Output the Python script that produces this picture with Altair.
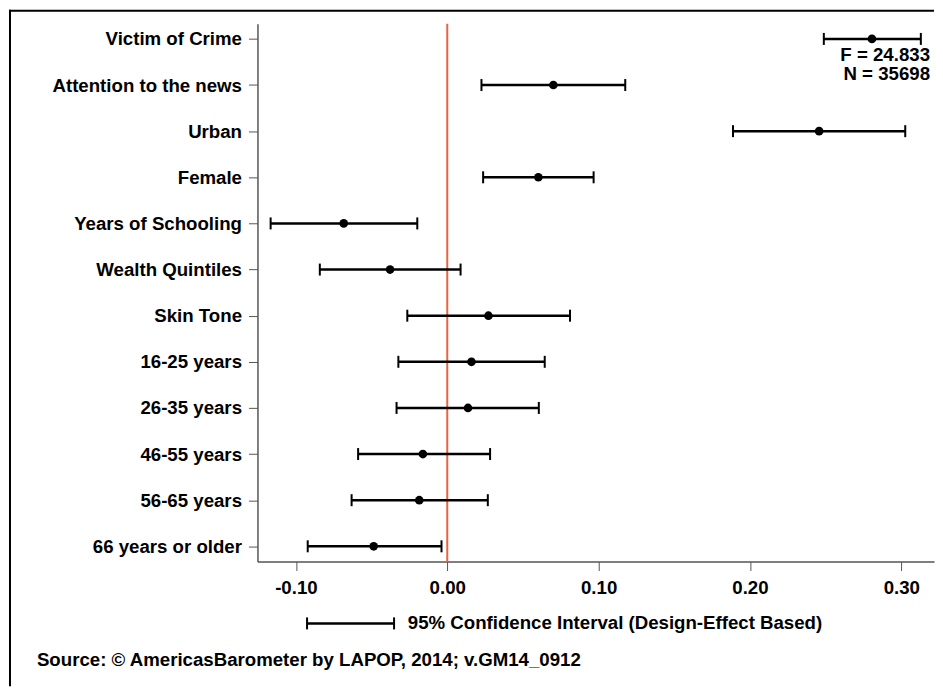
import altair as alt
import pandas as pd

variables = ["Victim of Crime", "Attention to the news", "Urban", "Female",
             "Years of Schooling", "Wealth Quintiles", "Skin Tone",
             "16-25 years", "26-35 years", "46-55 years", "56-65 years",
             "66 years or older"]
coef = [0.2806, 0.0701, 0.2457, 0.0602, -0.0684, -0.0378, 0.0272,
        0.0160, 0.0137, -0.0161, -0.0185, -0.0486]
lower = [0.2488, 0.0226, 0.1888, 0.0237, -0.1167, -0.0842, -0.0264,
         -0.0323, -0.0335, -0.0589, -0.0632, -0.0922]
upper = [0.3129, 0.1176, 0.3026, 0.0967, -0.0198, 0.0088, 0.0811,
         0.0644, 0.0605, 0.0283, 0.0268, -0.0038]
x_ticks = [-0.10, 0.0, 0.10, 0.20, 0.30]
stats_lines = ["F = 24.833", "N = 35698"]
legend_text = "95% Confidence Interval (Design-Effect Based)"
source_text = "Source: \u00a9 AmericasBarometer by LAPOP, 2014; v.GM14_0912"

FONT = "Liberation Sans"
FS = 18.7
W, H = 678, 539

df = pd.DataFrame({"variable": variables, "coef": coef,
                   "lower": lower, "upper": upper})
one = pd.DataFrame({"k": [0]})

xscale = alt.Scale(domain=[-0.1254, 0.3216], nice=False, zero=False)
yscale = alt.Scale(type="point", domain=variables, padding=0.33)

xaxis = alt.Axis(values=x_ticks, title=None, grid=False,
                 labelExpr="replace(format(datum.value, '.2f'), '\u2212', '-')",
                 tickSize=9, labelPadding=8, domainColor="#555",
                 tickColor="#555", domainWidth=1.5, labelFontSize=FS,
                 labelFont=FONT, labelFontWeight="bold", labelColor="black")
yaxis = alt.Axis(title=None, grid=False, tickSize=9, labelPadding=7,
                 domainColor="#555", tickColor="#555", domainWidth=1.5,
                 labelFontSize=FS, labelFont=FONT, labelFontWeight="bold",
                 labelColor="black", labelLimit=400)

base = alt.Chart(df)
Y = alt.Y("variable:N", scale=yscale, axis=yaxis, sort=variables)

zero_line = alt.Chart(pd.DataFrame({"z": [0.0]})).mark_rule(
    color="#E8643F", strokeWidth=2).encode(
    x=alt.X("z:Q", scale=xscale, axis=xaxis))

bars = base.mark_rule(color="black", strokeWidth=2.5).encode(
    x=alt.X("lower:Q", scale=xscale, axis=xaxis), x2="upper:Q", y=Y)
cap_lo = base.mark_tick(color="black", thickness=2, size=12, opacity=1,
                        orient="vertical").encode(
    x=alt.X("lower:Q", scale=xscale), y=Y)
cap_hi = base.mark_tick(color="black", thickness=2, size=12, opacity=1,
                        orient="vertical").encode(
    x=alt.X("upper:Q", scale=xscale), y=Y)
points = base.mark_circle(color="black", size=75, opacity=1).encode(
    x=alt.X("coef:Q", scale=xscale), y=Y)

txt = dict(font=FONT, fontSize=FS, fontWeight="bold", color="black",
           baseline="middle")
stat1 = alt.Chart(one).mark_text(text=stats_lines[0], align="right", **txt).encode(
    x=alt.value(674), y=alt.value(31))
stat2 = alt.Chart(one).mark_text(text=stats_lines[1], align="right", **txt).encode(
    x=alt.value(674), y=alt.value(50))

leg_rule = alt.Chart(one).mark_rule(color="black", strokeWidth=2.5).encode(
    x=alt.value(49.7), x2=alt.value(136.9), y=alt.value(601))
leg_cap1 = alt.Chart(one).mark_rule(color="black", strokeWidth=2).encode(
    x=alt.value(49.7), y=alt.value(595), y2=alt.value(607))
leg_cap2 = alt.Chart(one).mark_rule(color="black", strokeWidth=2).encode(
    x=alt.value(136.9), y=alt.value(595), y2=alt.value(607))
leg_text = alt.Chart(one).mark_text(text=legend_text, align="left", **txt).encode(
    x=alt.value(150.7), y=alt.value(601))
src_text = alt.Chart(one).mark_text(text=source_text, align="left", **txt).encode(
    x=alt.value(-221), y=alt.value(638))

frame_left = alt.Chart(one).mark_rule(color="black", strokeWidth=2).encode(
    x=alt.value(-248), y=alt.value(-14), y2=alt.value(664))
frame_top = alt.Chart(one).mark_rule(color="black", strokeWidth=2).encode(
    x=alt.value(-249), x2=alt.value(W), y=alt.value(-13))

chart = alt.layer(
    zero_line, bars, cap_lo, cap_hi, points, stat1, stat2,
    leg_rule, leg_cap1, leg_cap2, leg_text, src_text, frame_left, frame_top
).properties(width=W, height=H, padding=0).configure(
    font=FONT).configure_view(stroke="transparent", strokeWidth=0)

chart.save("out.html", embed_options={"renderer": "svg", "actions": False})
